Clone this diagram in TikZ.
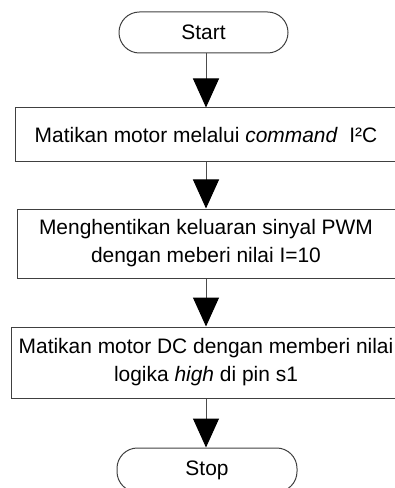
\documentclass[tikz,border=0pt]{standalone}
\usepackage{fontspec}
\setmainfont{Liberation Sans}
\usetikzlibrary{arrows.meta}
\begin{document}
\begin{tikzpicture}[x=0.75pt,y=-0.75pt,line width=0.75pt,
  every node/.style={font=\fontsize{15.7pt}{21pt}\selectfont, inner sep=0pt, align=center},
  term/.style={draw=black!75, rectangle, rounded corners=15.3pt, minimum width=#1, minimum height=30.75pt},
  procbox/.style={draw=black!75, rectangle, minimum width=#1},
  flow/.style={draw=black!70, -{Triangle[width=19.5pt,length=21.75pt,color=black]}}]
\useasboundingbox (0,0) rectangle (394,488);

% vertical axis of the flow
\coordinate (axis) at (206,0);

% terminals and process steps
\node[term=126.75pt] (start) at (203.5,32.5) {Start};
\node[procbox=292pt, minimum height=40.5pt] (b1) at (210,135) {};
\node at (b1 -| axis) {Matikan motor melalui \textit{command}\ \ I²C};
\node[procbox=290pt, minimum height=51.75pt] (b2) at (210.5,243.5) {};
\node at (b2 -| axis) {Menghentikan keluaran sinyal PWM\\dengan meberi nilai I=10};
\node[procbox=296pt, minimum height=53.25pt] (b3) at (209,362.5) {};
\node at (b3 -| axis) {Matikan motor DC dengan memberi nilai\\logika \textit{high} di pin s1};
\node[term=135pt, minimum height=33pt] (stop) at (207,470) {};
\node at (207,470) {Stop};

% connectors
\draw[flow] (start.south -| axis) -- (b1.north -| axis);
\draw[flow] (b1.south -| axis) -- (b2.north -| axis);
\draw[flow] (b2.south -| axis) -- (b3.north -| axis);
\draw[flow] (b3.south -| axis) -- (stop.north -| axis);
\end{tikzpicture}
\end{document}
